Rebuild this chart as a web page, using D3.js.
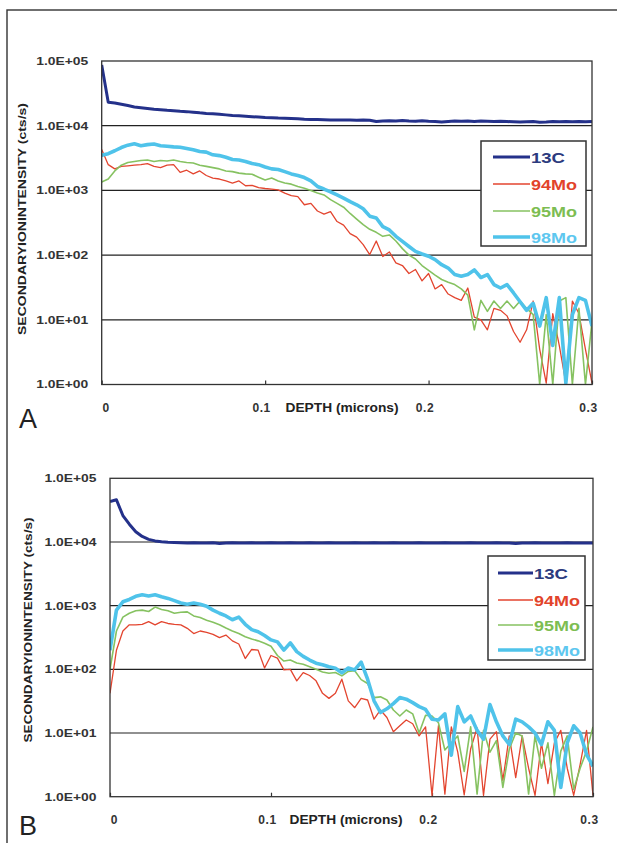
<!DOCTYPE html>
<html>
<head>
<meta charset="utf-8">
<script src="https://d3js.org/d3.v7.min.js"></script>
<style>
  html, body { margin: 0; padding: 0; background: #fff; }
  svg text { font-family: "Liberation Sans", Arial, sans-serif; }
</style>
</head>
<body>
<div id="chart"></div>
<script>
// depth in microns, one sample every 0.004
const depth = [0, 0.004, 0.008, 0.012, 0.016, 0.02, 0.024, 0.028, 0.032, 0.036,
  0.04, 0.044, 0.048, 0.052, 0.056, 0.06, 0.064, 0.068, 0.072, 0.076,
  0.08, 0.084, 0.088, 0.092, 0.096, 0.1, 0.104, 0.108, 0.112, 0.116,
  0.12, 0.124, 0.128, 0.132, 0.136, 0.14, 0.144, 0.148, 0.152, 0.156,
  0.16, 0.164, 0.168, 0.172, 0.176, 0.18, 0.184, 0.188, 0.192, 0.196,
  0.2, 0.204, 0.208, 0.212, 0.216, 0.22, 0.224, 0.228, 0.232, 0.236,
  0.24, 0.244, 0.248, 0.252, 0.256, 0.26, 0.264, 0.268, 0.272, 0.276,
  0.28, 0.284, 0.288, 0.292, 0.296, 0.3];

// panel A (cts/s)
const a13C = [87000, 23000, 22500, 21500, 20500, 19500, 19000, 18500, 18000, 17700,
  17300, 17000, 16700, 16500, 16200, 15800, 15500, 15300, 15000, 14700,
  14400, 14200, 14000, 13800, 13600, 13400, 13300, 13100, 13000, 12900,
  12800, 12600, 12500, 12500, 12400, 12300, 12300, 12200, 12200, 12100,
  12200, 12100, 11600, 11800, 11900, 11800, 12000, 11800, 11700, 11900,
  11700, 11600, 11400, 11600, 11800, 11700, 11800, 11600, 11800, 11700,
  11600, 11700, 11600, 11500, 11400, 11500, 11600, 11300, 11400, 11600,
  11500, 11600, 11500, 11600, 11500, 11600];
const a94Mo = [4300, 2500, 2150, 2350, 2400, 2450, 2500, 2600, 2350, 2250,
  2450, 2500, 1900, 2050, 1800, 2000, 1700, 1550, 1500, 1400,
  1300, 1400, 1180, 1200, 1100, 1070, 1050, 1020, 910, 830,
  800, 600, 630, 480, 430, 470, 330, 290, 215, 190,
  145, 102, 165, 95, 112, 76, 69, 52, 60, 40,
  52, 30, 35, 25, 22, 20, 31, 11, 10, 7,
  15, 14, 11.5, 6.6, 4.5, 7, 19.5, 3.5, 1.05, 12.5,
  4, 1.05, 19.5, 12.5, 3.5, 1.05];
const a95Mo = [1350, 1500, 2000, 2450, 2700, 2800, 2900, 2950, 2800, 2900,
  2850, 2950, 2800, 2700, 2650, 2450, 2350, 2250, 2150, 2000,
  1950, 1850, 1800, 1780, 1600, 1450, 1550, 1400, 1300, 1250,
  1150, 1080, 1000, 910, 850, 720, 630, 550, 440, 360,
  295, 250, 225, 195, 205, 165, 126, 100, 87, 69,
  58, 49, 42, 38, 35, 30, 24, 7, 20, 13.5,
  19.5, 15, 19.5, 15, 19.5, 15, 12, 1.0, 12, 1.0,
  19.5, 22, 1.0, 15, 1.0, 9.5];
const a98Mo = [3500, 3700, 4100, 4600, 5000, 5250, 4900, 5100, 5200, 4900,
  4800, 4700, 4650, 4450, 4250, 4000, 3900, 3550, 3450, 3250,
  3000, 2950, 2800, 2600, 2500, 2300, 2150, 2100, 1950, 1800,
  1700, 1580, 1400, 1150, 1050, 950, 850, 760, 670, 600,
  520, 400, 375, 275, 245, 195, 163, 136, 114, 104,
  96, 85, 71, 63, 50, 47, 50, 59, 45, 50,
  35, 31, 35, 26, 19, 14, 18, 8, 22, 4,
  22, 1.05, 12, 22, 20, 8];

// panel B (cts/s)
const b13C = [43000, 46000, 26000, 19000, 14500, 12200, 11000, 10400, 10100, 9900,
  9800, 9700, 9650, 9700, 9600, 9650, 9700, 9500, 9650, 9700,
  9600, 9650, 9700, 9600, 9650, 9700, 9650, 9600, 9700, 9650,
  9600, 9700, 9650, 9600, 9700, 9650, 9600, 9650, 9700, 9600,
  9650, 9700, 9600, 9650, 9700, 9600, 9650, 9600, 9700, 9650,
  9600, 9650, 9700, 9600, 9650, 9600, 9700, 9650, 9600, 9650,
  9700, 9600, 9650, 9500, 9650, 9600, 9700, 9650, 9600, 9650,
  9600, 9700, 9650, 9600, 9650, 9650];
const b94Mo = [42, 200, 400, 500, 500, 510, 560, 500, 560, 525,
  510, 500, 440, 365, 400, 380, 355, 315, 345, 280,
  250, 148, 205, 200, 105, 165, 150, 98, 100, 66,
  89, 80, 66, 42, 35, 42, 70, 32, 25, 35,
  33, 16.5, 23, 17.5, 10.5, 13, 16, 14, 9, 12.5,
  1.05, 13, 1.1, 12.5, 5, 1.07, 5.6, 12, 1.05, 8,
  10.5, 1.8, 9, 2, 9, 2.8, 1.05, 7, 1.6, 7,
  11, 2.8, 1.05, 3.2, 11, 1.05];
const b95Mo = [100, 400, 660, 760, 830, 850, 810, 950, 870, 830,
  760, 790, 800, 690, 650, 590, 550, 500, 445, 400,
  365, 325, 300, 280, 257, 230, 165, 135, 140, 126,
  120, 110, 100, 91, 87, 89, 79, 93, 95, 69,
  60, 36, 37, 33, 23, 18.5, 23, 20, 10, 19,
  18.5, 14.5, 5.4, 7, 9, 2.5, 12.5, 1.1, 11, 5,
  7.6, 1.4, 5.6, 10, 9, 1.1, 9, 2.8, 7, 1.05,
  5.2, 9, 1.3, 2.8, 5.2, 12.5];
const b98Mo = [200, 850, 1150, 1250, 1400, 1480, 1420, 1480, 1380, 1300,
  1200, 1100, 1050, 1100, 1050, 980, 850, 760, 690, 600,
  660, 510, 420, 390, 340, 290, 270, 200, 260, 190,
  160, 140, 125, 118, 110, 104, 88, 105, 98, 130,
  70, 32, 21, 24, 29, 36, 34, 30, 26, 23.5,
  16.5, 16, 20, 4.5, 26, 15, 18.5, 11, 8, 28,
  15, 9, 6.6, 16.5, 15, 12.5, 10, 6.6, 15, 11,
  1.4, 7, 13, 10, 4.6, 3];

const seriesNames = ["13C", "94Mo", "95Mo", "98Mo"];
const yTicks = [1, 10, 100, 1000, 10000, 100000];
const yTickLabels = ["1.0E+00", "1.0E+01", "1.0E+02", "1.0E+03", "1.0E+04", "1.0E+05"];
const xTicks = [0, 0.1, 0.2, 0.3];
const xTickLabels = ["0", "0.1", "0.2", "0.3"];

const width = 617;
const height = 843;

const lineColors = ["#24318a", "#e3452f", "#86c261", "#4fc3ea"];
const textColors = ["#2c3b7e", "#e2432b", "#7dbd52", "#5ec7ef"];
const lineWidths = [3, 1.3, 1.6, 3.6];

const svg = d3
  .select("#chart")
  .append("svg")
  .attr("width", width)
  .attr("height", height);

svg.append("rect").attr("width", width).attr("height", height).attr("fill", "#fff");

// outer frame round both panels (runs off the right and bottom)
svg
  .append("rect")
  .attr("x", 7)
  .attr("y", 10)
  .attr("width", 640)
  .attr("height", 860)
  .attr("fill", "none")
  .attr("stroke", "#333")
  .attr("stroke-width", 1.4);

const panels = [
  {
    id: "A",
    series: [a13C, a94Mo, a95Mo, a98Mo],
    left: 101.7, right: 592, top: 61, bottom: 384.5,
    legend: { x: 481, y: 141, w: 105, h: 105, x1: 493, x2: 530, rows: [157, 184, 211, 237] },
    yTitle: { x: 22, y: 219, len: 232 },
    xLabelY: 412,
    xTitleX: 342,
    letter: { x: 19, y: 428 },
  },
  {
    id: "B",
    series: [b13C, b94Mo, b95Mo, b98Mo],
    left: 110, right: 593, top: 478.3, bottom: 796.7,
    legend: { x: 488, y: 556, w: 97, h: 104, x1: 498, x2: 533, rows: [573, 600, 625, 650] },
    yTitle: { x: 28, y: 630, len: 225 },
    xLabelY: 824,
    xTitleX: 346,
    letter: { x: 19, y: 835 },
  },
];

panels.forEach(drawPanel);

function drawPanel(p) {
  const g = svg.append("g").attr("class", "panel-" + p.id);

  const x = d3.scaleLinear().domain([0, 0.3]).range([p.left, p.right]);
  const y = d3.scaleLog().domain([1, 100000]).range([p.bottom, p.top]);

  // decade grid lines
  g.selectAll("line.grid")
    .data(yTicks.slice(1, -1))
    .enter()
    .append("line")
    .attr("class", "grid")
    .attr("x1", p.left)
    .attr("x2", p.right)
    .attr("y1", (d) => y(d))
    .attr("y2", (d) => y(d))
    .attr("stroke", "#222")
    .attr("stroke-width", 1.2);

  // y labels
  const yAxis = g
    .append("g")
    .attr("transform", `translate(${p.left},0)`)
    .call(
      d3.axisLeft(y)
        .tickValues(yTicks)
        .tickFormat((d, i) => yTickLabels[i])
        .tickSize(0)
        .tickPadding(13.5)
    );
  yAxis.select(".domain").remove();
  yAxis
    .selectAll("text")
    .attr("fill", "#333")
    .attr("textLength", 52)
    .attr("lengthAdjust", "spacingAndGlyphs")
    .style("font-size", "10.5px")
    .style("font-weight", "bold");

  // x axis: small inward ticks + labels
  const xAxis = g
    .append("g")
    .attr("transform", `translate(0,${p.bottom})`)
    .call(
      d3.axisBottom(x)
        .tickValues(xTicks)
        .tickFormat((d, i) => xTickLabels[i])
        .tickSizeInner(-4)
        .tickSizeOuter(0)
    );
  xAxis.select(".domain").remove();
  xAxis.selectAll("line").attr("stroke", "#333").attr("stroke-width", 1.2);
  xAxis
    .selectAll("text")
    .attr("y", p.xLabelY - p.bottom)
    .attr("dy", null)
    .attr("dx", (d) => (d === 0 ? 4 : -4))
    .attr("fill", "#333")
    .style("font-size", "12px")
    .style("font-weight", "bold")
    .style("letter-spacing", "0.6px");

  // series
  const clipId = "clip-" + p.id;
  g.append("clipPath")
    .attr("id", clipId)
    .append("rect")
    .attr("x", p.left)
    .attr("y", p.top - 2)
    .attr("width", p.right - p.left)
    .attr("height", p.bottom - p.top + 2);

  const line = d3
    .line()
    .x((d, i) => x(depth[i]))
    .y((d) => y(Math.max(d, 1)));

  g.append("g")
    .attr("clip-path", `url(#${clipId})`)
    .selectAll("path")
    .data(p.series)
    .enter()
    .append("path")
    .attr("d", line)
    .attr("fill", "none")
    .attr("stroke", (d, i) => lineColors[i])
    .attr("stroke-width", (d, i) => lineWidths[i])
    .attr("stroke-linejoin", "round");

  // plot frame
  g.append("rect")
    .attr("x", p.left)
    .attr("y", p.top)
    .attr("width", p.right - p.left)
    .attr("height", p.bottom - p.top)
    .attr("fill", "none")
    .attr("stroke", "#333")
    .attr("stroke-width", 1.3);

  // legend
  const lg = g.append("g").attr("class", "legend");
  lg.append("rect")
    .attr("x", p.legend.x)
    .attr("y", p.legend.y)
    .attr("width", p.legend.w)
    .attr("height", p.legend.h)
    .attr("fill", "#fff")
    .attr("stroke", "#333")
    .attr("stroke-width", 1.5);

  seriesNames.forEach((name, i) => {
    const ry = p.legend.rows[i];
    lg.append("line")
      .attr("x1", p.legend.x1)
      .attr("x2", p.legend.x2)
      .attr("y1", ry)
      .attr("y2", ry)
      .attr("stroke", lineColors[i])
      .attr("stroke-width", lineWidths[i]);
    lg.append("text")
      .attr("x", p.legend.x2 + 1)
      .attr("y", ry + 5.5)
      .attr("fill", textColors[i])
      .attr("textLength", i === 0 ? 34 : 46)
      .attr("lengthAdjust", "spacingAndGlyphs")
      .style("font-size", "15px")
      .style("font-weight", "bold")
      .text(name);
  });

  // axis titles
  g.append("text")
    .attr("transform", `translate(${p.yTitle.x},${p.yTitle.y}) rotate(-90)`)
    .attr("text-anchor", "middle")
    .attr("dy", "0.35em")
    .attr("textLength", p.yTitle.len)
    .attr("lengthAdjust", "spacingAndGlyphs")
    .attr("fill", "#222")
    .style("font-size", "11px")
    .style("font-weight", "bold")
    .text("SECONDARYIONINTENSITY (cts/s)");

  g.append("text")
    .attr("x", p.xTitleX)
    .attr("y", p.xLabelY)
    .attr("text-anchor", "middle")
    .attr("textLength", 113)
    .attr("lengthAdjust", "spacingAndGlyphs")
    .attr("fill", "#222")
    .style("font-size", "12px")
    .style("font-weight", "bold")
    .text("DEPTH (microns)");

  // panel letter
  g.append("text")
    .attr("x", p.letter.x)
    .attr("y", p.letter.y)
    .attr("fill", "#222")
    .style("font-size", "27px")
    .text(p.id);
}
</script>
</body>
</html>
